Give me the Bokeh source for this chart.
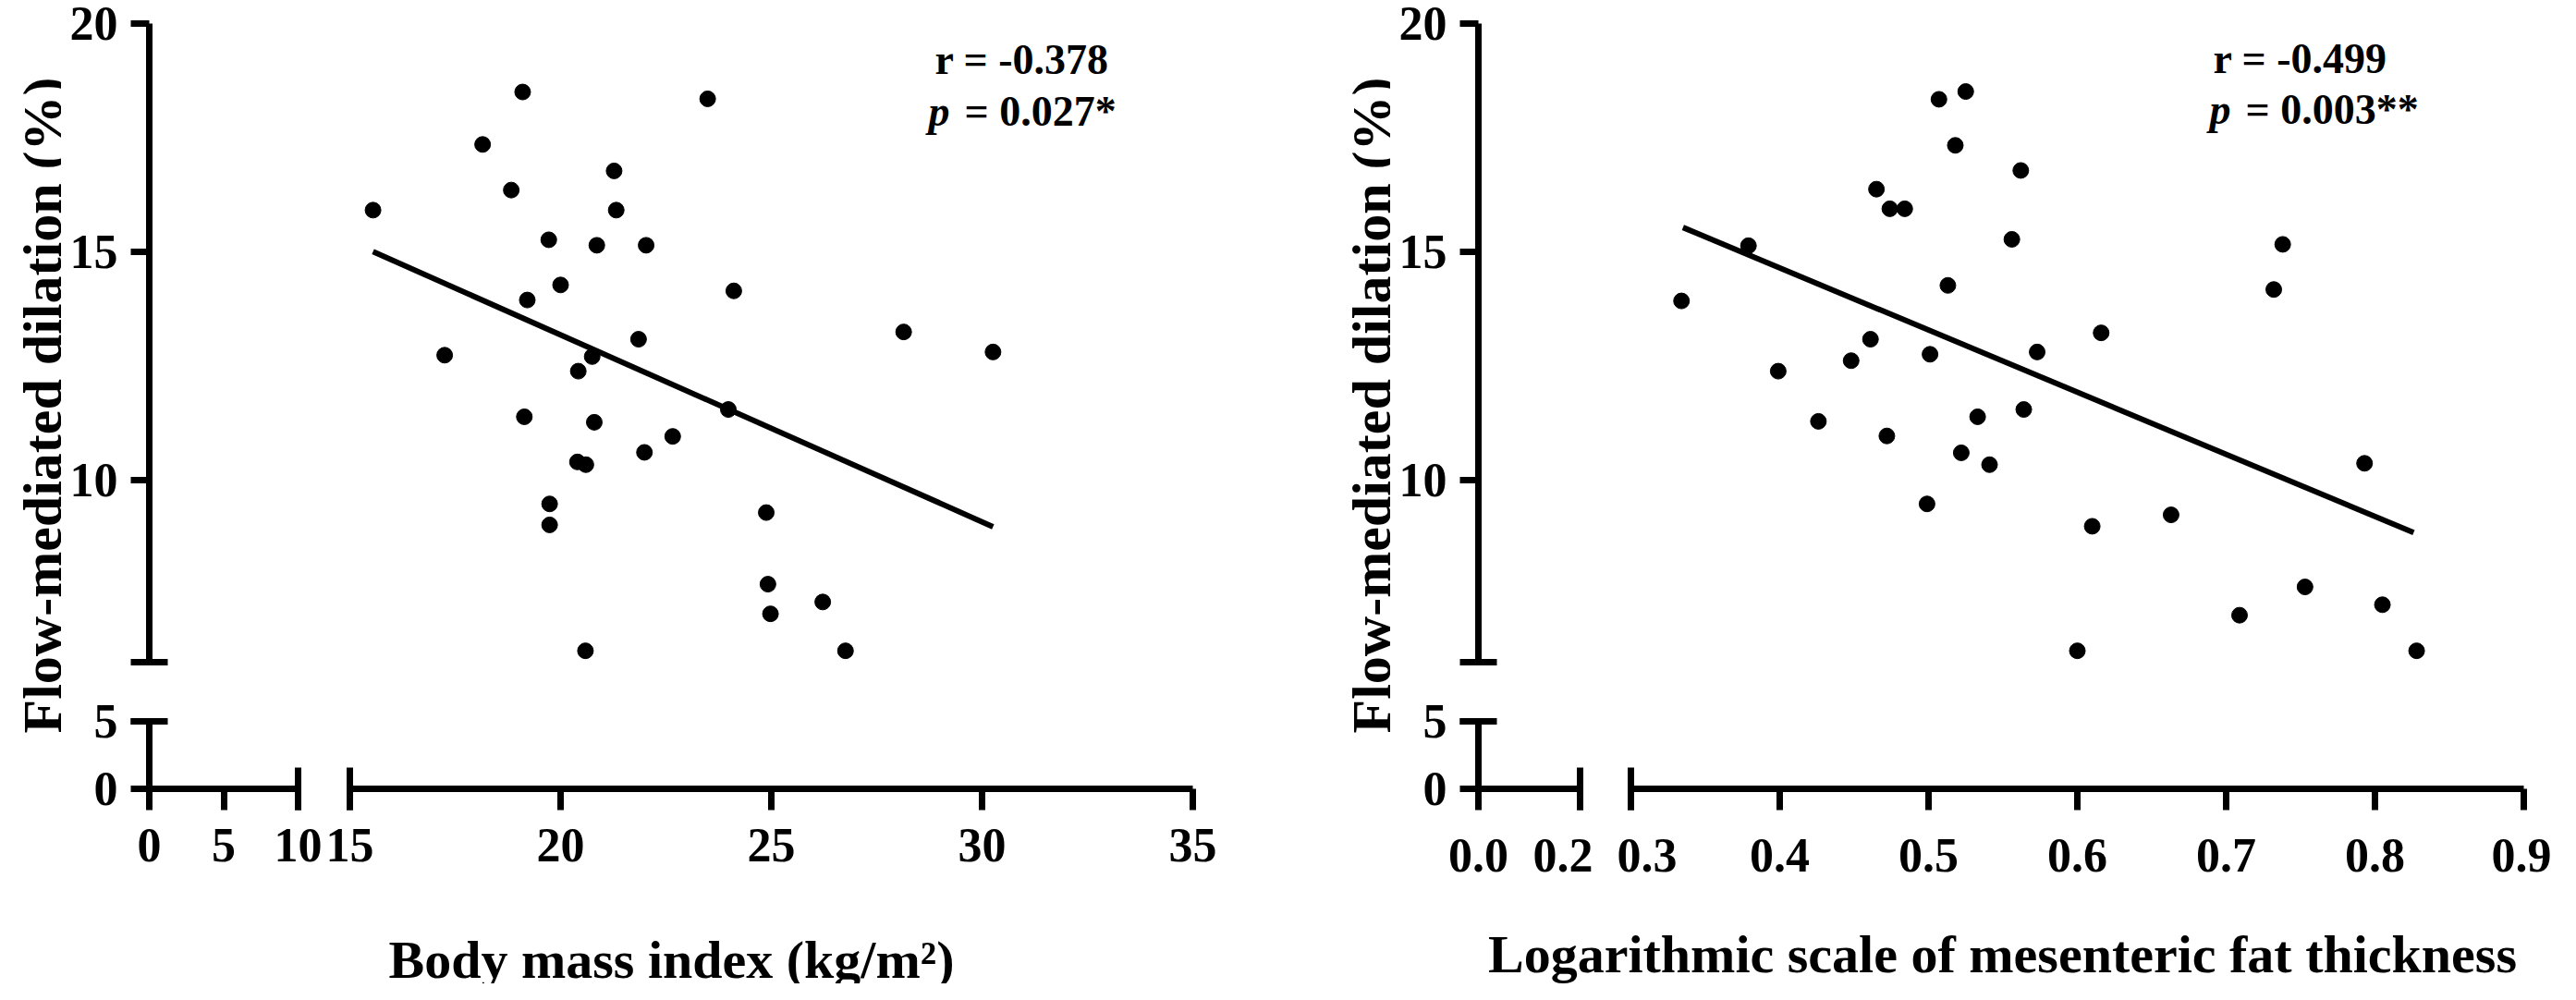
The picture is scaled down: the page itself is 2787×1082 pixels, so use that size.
import math
from bokeh.plotting import figure
from bokeh.models import FixedTicker, Range1d, Label, LinearAxis, NumeralTickFormatter, BasicTickFormatter
from bokeh.core.properties import value
from bokeh.layouts import row, column
from bokeh.embed import file_html
from bokeh.resources import INLINE

# ---------------- data ----------------
bmi = [15.55, 17.25, 18.15, 18.83, 19.10, 19.14, 19.21, 19.72, 19.74, 19.74,
       20.00, 20.42, 20.75, 20.40, 20.60, 20.59, 20.80, 20.86, 21.27, 21.32,
       21.85, 21.99, 22.03, 22.66, 23.49, 23.98, 24.11, 24.88, 24.92, 24.98,
       26.22, 26.76, 28.14, 30.26]
fmd_bmi = [15.91, 12.73, 17.35, 16.35, 18.50, 11.38, 13.94, 15.26, 9.47, 9.01,
           14.27, 12.38, 12.70, 10.39, 10.33, 6.25, 11.26, 15.14, 16.77, 15.91,
           13.08, 10.60, 15.14, 10.95, 18.35, 11.54, 14.14, 9.28, 7.71, 7.06,
           7.32, 6.25, 13.24, 12.80]

log_mft = [0.334, 0.379, 0.399, 0.426, 0.448, 0.461, 0.465, 0.474, 0.484, 0.472,
           0.499, 0.501, 0.507, 0.525, 0.518, 0.513, 0.522, 0.533, 0.541, 0.556,
           0.562, 0.564, 0.573, 0.616, 0.610, 0.663, 0.732, 0.738, 0.793, 0.753,
           0.805, 0.709, 0.600, 0.828]
fmd_mft = [13.92, 15.13, 12.38, 11.28, 12.61, 13.08, 16.37, 15.94, 15.94, 10.96,
           9.47, 12.75, 18.34, 18.51, 17.33, 14.26, 10.59, 11.38, 10.33, 15.27,
           16.78, 11.54, 12.80, 13.22, 8.98, 9.23, 14.17, 15.16, 10.36, 7.65,
           7.26, 7.03, 6.25, 6.25]

bmi_fit_x = [15.55, 30.26]
bmi_fit_y = [15.00, 8.97]
mft_fit_x = [0.335, 0.826]
mft_fit_y = [15.53, 8.84]

y_upper_range = (6, 20)
y_upper_ticks = [10, 15, 20]
y_lower_range = (0, 5)
y_lower_ticks = [0, 5]

bmi_low_range = (0, 10)
bmi_low_ticks = [0, 5, 10]
bmi_high_range = (15, 35)
bmi_high_ticks = [15, 20, 25, 30, 35]

mft_low_range = (0.0, 0.2)
mft_low_ticks = [0.0, 0.2]
mft_high_range = (0.3, 0.9)
mft_high_ticks = [0.3, 0.4, 0.5, 0.6, 0.7, 0.8, 0.9]

y_title = "Flow-mediated dilation (%)"
bmi_title = "Body mass index (kg/m\u00b2)"
mft_title = "Logarithmic scale of mesenteric fat thickness"
bmi_stats = ["r = -0.378", "p", "= 0.027*"]
mft_stats = ["r = -0.499", "p", "= 0.003**"]

# ---------------- styling ----------------
FONT = "Liberation Serif"
LW = 7
TICK_Y = 20
TICK_X = 23
TICK_FS = "52px"
TITLE_FS = "58px"
YTITLE_FS = "60px"
STAT_FS = "46px"
NB = "\u00a0"

TOTAL_H = 1064
TOP = 25
UP_H = 691
GAP_UP = 32
GAP_LO = 32
LO_H = 73
BOT = 110
XT_H = TOTAL_H - (TOP + UP_H + GAP_UP + GAP_LO + LO_H + BOT)
XT_TOP = TOTAL_H - XT_H   # canvas y where the x-title strip begins


def base_fig(xr, yr, w_frame, h_frame, left, right, top, bottom):
    p = figure(width=left + w_frame + right, height=top + h_frame + bottom,
               x_range=Range1d(*xr), y_range=Range1d(*yr),
               x_axis_location=None, y_axis_location=None,
               toolbar_location=None, output_backend="svg",
               min_border_left=left, min_border_right=right,
               min_border_top=top, min_border_bottom=bottom)
    p.outline_line_color = None
    p.background_fill_color = "white"
    p.border_fill_color = "white"
    p.xgrid.visible = False
    p.ygrid.visible = False
    return p


def strip(w, h):
    return base_fig((0, w), (0, h), w, h, 0, 0, 0, 0)


def add_axis(p, side, ticks, caps, tick_len, fmt=None, standoff=14, overrides=None):
    ax = LinearAxis(ticker=FixedTicker(ticks=ticks, minor_ticks=caps))
    if fmt is not None:
        ax.formatter = fmt
    if overrides:
        ax.major_label_overrides = overrides
    ax.axis_line_width = LW
    ax.axis_line_color = "black"
    ax.major_tick_line_width = LW
    ax.minor_tick_line_width = LW
    ax.major_tick_line_color = "black"
    ax.minor_tick_line_color = "black"
    ax.major_tick_out = tick_len
    ax.major_tick_in = 0
    ax.minor_tick_out = tick_len
    ax.minor_tick_in = tick_len
    ax.major_label_text_font = FONT
    ax.major_label_text_font_style = "bold"
    ax.major_label_text_font_size = TICK_FS
    ax.major_label_text_color = "black"
    ax.major_label_standoff = standoff
    p.add_layout(ax, side)
    return ax


def panel(xs, ys, fit_x, fit_y, low_range, low_ticks, high_range, high_ticks,
          low_w, high_w, a_left, a_right, b_left, b_right, fmt, x_title,
          x_title_cx, x_title_base, stats, stat_px, stat_py,
          low_over=None, high_over=None):
    A = base_fig(low_range, y_upper_range, low_w, UP_H, a_left, a_right, TOP, GAP_UP)
    add_axis(A, "left", y_upper_ticks, [y_upper_range[0]], TICK_Y)

    B = base_fig(high_range, y_upper_range, high_w, UP_H, b_left, b_right, TOP, GAP_UP)
    B.line(fit_x, fit_y, line_width=6, line_color="black")
    B.scatter(xs, ys, size=17, fill_color="black", line_color="black")
    span = high_range[1] - high_range[0]

    def dx(px):
        return high_range[0] + px * span / high_w

    def dy(py):
        return y_upper_range[1] - py * (y_upper_range[1] - y_upper_range[0]) / UP_H

    B.add_layout(Label(x=dx(stat_px[0]), y=dy(stat_py[0]), text=stats[0],
                       text_font=FONT, text_font_style="bold", text_font_size=STAT_FS,
                       text_baseline="alphabetic", text_color="black"))
    B.add_layout(Label(x=dx(stat_px[1]), y=dy(stat_py[1]), text=stats[1],
                       text_font=FONT, text_font_style="bold italic", text_font_size=STAT_FS,
                       text_baseline="alphabetic", text_color="black"))
    B.add_layout(Label(x=dx(stat_px[1]), y=dy(stat_py[1]), x_offset=39, text=stats[2],
                       text_font=FONT, text_font_style="bold", text_font_size=STAT_FS,
                       text_baseline="alphabetic", text_color="black"))

    C = base_fig(low_range, y_lower_range, low_w, LO_H, a_left, a_right, GAP_LO, BOT)
    add_axis(C, "left", y_lower_ticks, [y_lower_range[1]], TICK_Y)
    add_axis(C, "below", low_ticks, [low_range[1]], TICK_X, fmt=fmt, standoff=20,
             overrides=low_over)

    D = base_fig(high_range, y_lower_range, high_w, LO_H, b_left, b_right, GAP_LO, BOT)
    add_axis(D, "below", high_ticks, [high_range[0]], TICK_X, fmt=fmt, standoff=20,
             overrides=high_over)

    xt_w = (a_left + low_w + a_right) + (b_left + high_w + b_right)
    XT = strip(xt_w, XT_H)
    XT.text(x=[x_title_cx], y=[XT_H - x_title_base], text=[x_title],
            text_align="center", text_baseline="alphabetic",
            text_font=value(FONT), text_font_style="bold", text_font_size=TITLE_FS,
            text_color="black")
    return column(row(column(A, C), column(B, D)), XT)


def y_title_strip(w, base_x):
    T = strip(w, TOTAL_H)
    T.text(x=[base_x], y=[TOTAL_H - (446 - 8)], text=[y_title], angle=math.pi / 2,
           text_align="center", text_baseline="alphabetic",
           text_font=value(FONT), text_font_style="bold", text_font_size=YTITLE_FS,
           text_color="black")
    return T


# left panel: y axis at canvas x 161, main frame 378..1290
TL = y_title_strip(66, 45)
left = panel(bmi, fmd_bmi, bmi_fit_x, bmi_fit_y, bmi_low_range, bmi_low_ticks,
             bmi_high_range, bmi_high_ticks, 161, 912, 95, 28, 28, 54,
             BasicTickFormatter(), bmi_title, 726 - 66, 1038 - XT_TOP,
             bmi_stats, (1019 - 386, 1012 - 386), (72 - 33, 128 - 33))
# right panel: strip 160 wide, then y axis 95 px further, main frame 966 wide
TR = y_title_strip(160, 139)
right = panel(log_mft, fmd_mft, mft_fit_x, mft_fit_y, mft_low_range, mft_low_ticks,
              mft_high_range, mft_high_ticks, 110, 966, 95, 27, 28, 30,
              NumeralTickFormatter(format="0.0"), mft_title, 662, 1032 - XT_TOP,
              mft_stats, (2408 - 1778, 2404 - 1778), (71 - 33, 126 - 33),
              low_over={0.2: "0.2" + NB}, high_over={0.3: NB + "0.3"})

layout = row(TL, left, TR, right)
html = file_html(layout, INLINE, "FMD correlations")
open("out.html", "w").write(html)
